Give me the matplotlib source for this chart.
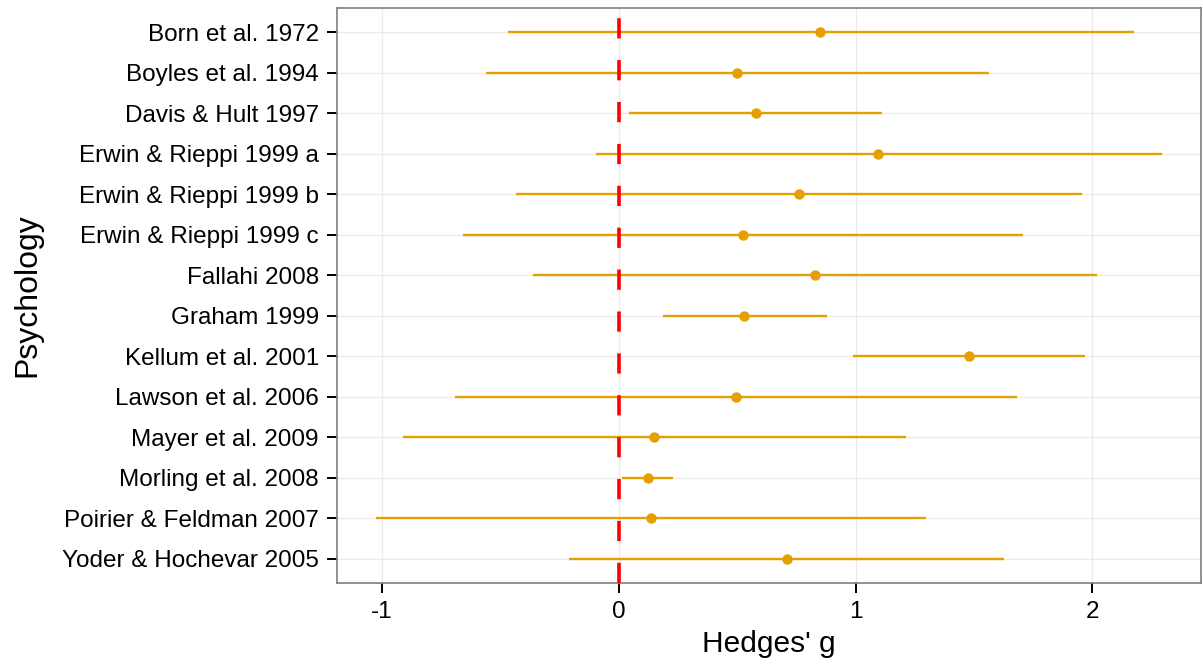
import numpy as np
import matplotlib
matplotlib.use("Agg")
import matplotlib.pyplot as plt

plt.rcParams['font.family'] = ['Liberation Sans', 'DejaVu Sans']

studies = ["Born et al. 1972", "Boyles et al. 1994", "Davis & Hult 1997",
           "Erwin & Rieppi 1999 a", "Erwin & Rieppi 1999 b", "Erwin & Rieppi 1999 c",
           "Fallahi 2008", "Graham 1999", "Kellum et al. 2001", "Lawson et al. 2006",
           "Mayer et al. 2009", "Morling et al. 2008", "Poirier & Feldman 2007",
           "Yoder & Hochevar 2005"]
g = [0.852, 0.498, 0.578, 1.096, 0.763, 0.523, 0.829, 0.531, 1.479, 0.495,
     0.149, 0.122, 0.137, 0.710]
lower = [-0.466, -0.562, 0.045, -0.098, -0.434, -0.659, -0.363, 0.186, 0.991, -0.691,
         -0.912, 0.014, -1.024, -0.208]
upper = [2.175, 1.562, 1.113, 2.293, 1.958, 1.706, 2.019, 0.879, 1.971, 1.684,
         1.212, 0.231, 1.296, 1.629]
xticks = [-1, 0, 1, 2]

orange = "#E69F00"

fig = plt.figure(figsize=(12.03, 6.69), dpi=100)
ax = fig.add_axes([0.2801, 0.1286, 0.7182, 0.8594])

n = len(studies)
ypos = np.arange(n, 0, -1)

ax.hlines(ypos, lower, upper, color=orange, lw=1.7, zorder=3)
ax.plot(g, ypos, 'o', color=orange, ms=7.5, mew=0, zorder=4)
ax.axvline(0, color="#FF0000", lw=2.6, ls=(0, (5.6, 6.0)), zorder=5)

lo, hi = min(lower), max(upper)
pad = 0.05 * (hi - lo)
ax.set_xlim(lo - pad, hi + pad)
ax.set_ylim(0.4, n + 0.6)

ax.set_yticks(ypos)
ax.set_yticklabels(studies)
ax.set_xticks(xticks)
ax.set_xticklabels([str(t) for t in xticks])

ax.grid(True, color="#EBEBEB", lw=1.0, zorder=0)
ax.set_axisbelow(True)
for s in ax.spines.values():
    s.set_color("#7F7F7F")
    s.set_linewidth(1.2)

ax.tick_params(axis='both', length=7, width=1.4, color="black",
               labelsize=17.5, labelcolor="black", pad=6)
ax.set_xlabel("Hedges' g", fontsize=21.5, labelpad=5)
ax.set_ylabel("Psychology", fontsize=23, labelpad=14)

fig.savefig("out.png", dpi=100)
